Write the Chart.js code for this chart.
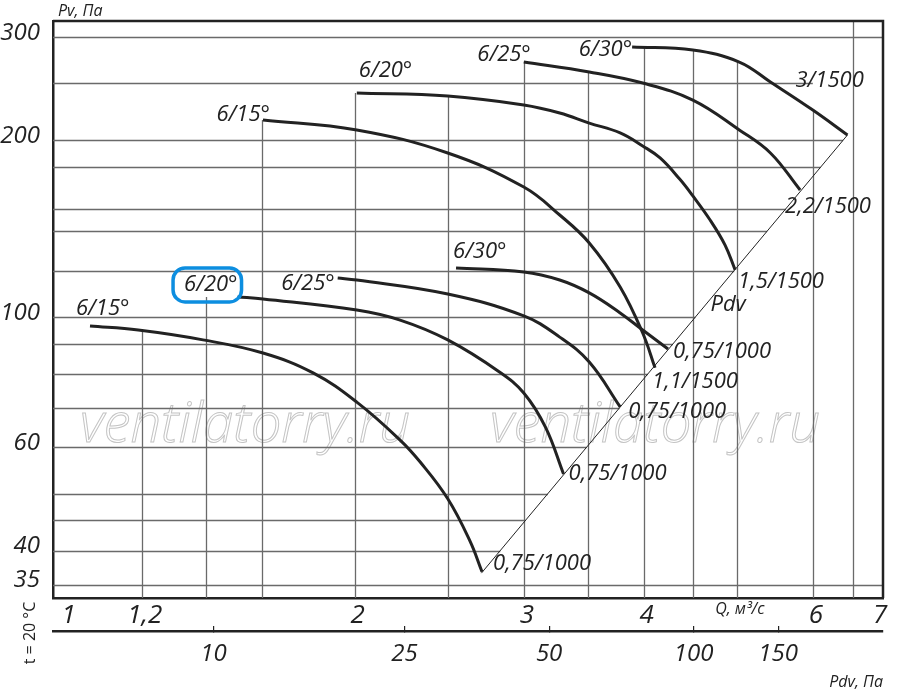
<!DOCTYPE html>
<html>
<head>
<meta charset="utf-8">
<script src="https://cdn.jsdelivr.net/npm/chart.js@4.4.1/dist/chart.umd.min.js"></script>
<style>
  html, body { margin: 0; padding: 0; background: #fff; }
</style>
</head>
<body>
<canvas id="chart" width="900" height="694"></canvas>
<script>
// Q, m3/s and Pv, Pa, one pair of arrays per curve
const lowQ15 = [1.06, 1.19, 1.39, 1.605, 1.81, 2.01, 2.23, 2.34, 2.50, 2.637, 2.714];
const lowPv15 = [96.5, 95.0, 91.4, 86.8, 80.3, 71.6, 61.7, 56.6, 49.0, 41.5, 36.8];
const lowQ20 = [1.51, 1.605, 2.01, 2.23, 2.50, 2.83, 3.00, 3.16, 3.30];
const lowPv20 = [108.2, 107.3, 102.8, 98.8, 91.4, 80.6, 74.2, 64.9, 54.0];
const lowQ25 = [1.92, 2.01, 2.50, 3.00, 3.27, 3.51, 3.78];
const lowPv25 = [116.5, 115.6, 109.4, 100.4, 92.4, 83.8, 70.3];
const lowQ30 = [2.55, 3.00, 3.27, 3.51, 3.78, 3.99, 4.24];
const lowPv30 = [121.2, 119.3, 115.6, 109.9, 101.6, 95.0, 88.2];

const highQ15 = [1.605, 2.01, 2.50, 3.00, 3.27, 3.51, 3.78, 3.99, 4.11];
const highPv15 = [216.6, 208.3, 190.3, 166.5, 149.2, 133.7, 112.5, 93.9, 81.9];
const highQ20 = [2.01, 2.50, 3.00, 3.27, 3.51, 3.78, 3.99, 4.16, 4.36, 4.50, 4.69, 4.86, 4.98];
const highPv20 = [240.8, 237.9, 229.7, 222.6, 214.0, 205.9, 195.6, 186.6, 171.8, 160.8, 146.3, 132.7, 120.3];
const highQ25 = [3.00, 3.51, 3.99, 4.50, 5.03, 5.42, 5.82];
const highPv25 = [271.9, 261.5, 250.4, 234.2, 208.3, 190.3, 164.6];
const highQ30 = [3.89, 4.50, 5.03, 5.42, 6.00, 6.52];
const highPv30 = [288.4, 285.0, 271.9, 251.4, 225.2, 204.2];

// Pdv line through the curve ends
const pdvLineQ = [2.71, 6.52];
const pdvLinePv = [36.6, 204.2];

const angleNames = ['6/15°', '6/20°', '6/25°', '6/30°', '6/15°', '6/20°', '6/25°', '6/30°'];
const motorNames = ['0,75/1000', '0,75/1000', '0,75/1000', '0,75/1000', '1,1/1500', '1,5/1500', '2,2/1500', '3/1500'];

// axes
const qTicks = [1, 1.2, 2, 3, 4, 5, 6, 7];
const qTickLabels = ['1', '1,2', '2', '3', '4', 'Q, м³/с', '6', '7'];
const qGrid = [1.2, 1.4, 1.6, 2, 2.5, 3, 3.5, 4, 4.5, 5, 6, 6.6];
const pvGrid = [35, 40, 45, 50, 60, 70, 80, 90, 100, 120, 140, 153, 180, 200, 250, 300];
const pvLabels = [35, 40, 60, 100, 200, 300];
const pdvTicks = [10, 25, 50, 100, 150];

const INK = '#222';
const GRID = '#6a6a6a';
const FONT = '"Open Sans", sans-serif';

const curves = [
  [lowQ15, lowPv15], [lowQ20, lowPv20], [lowQ25, lowPv25], [lowQ30, lowPv30],
  [highQ15, highPv15], [highQ20, highPv20], [highQ25, highPv25], [highQ30, highPv30]
].map(([q, pv], i) => ({ q, pv, name: angleNames[i], motor: motorNames[i] }));

// where the labels sit next to the curve start / end (pixels)
const startPlace = [
  { dx: -14, dy: -17, align: 'left' }, { dx: 0, dy: -12, align: 'right' },
  { dx: -3, dy: 6, align: 'right' }, { dx: -3, dy: -16, align: 'left' },
  { dx: 7, dy: -5, align: 'right' }, { dx: 2, dy: -22, align: 'left' },
  { dx: 7, dy: -7, align: 'right' }, { dx: 0, dy: 3, align: 'right' }
];
const endPlace = [
  { dx: 11, dy: -8 }, { dx: 5, dy: 0 }, { dx: 8, dy: 5 }, { dx: 5, dy: 3 },
  { dx: -3, dy: 14 }, { dx: 3, dy: 12 }, { dx: -15, dy: 17 }, { dx: -52, dy: -54 }
];

function interpLog(qs, pvs, q) {
  if (q <= qs[0]) return pvs[0];
  for (let i = 1; i < qs.length; i++) {
    if (q <= qs[i]) {
      const t = Math.log(q / qs[i - 1]) / Math.log(qs[i] / qs[i - 1]);
      return Math.exp(Math.log(pvs[i - 1]) + t * Math.log(pvs[i] / pvs[i - 1]));
    }
  }
  return null;
}

// highest curve over a given Q (curves reach a little to the left of their start)
function envelopeAt(q) {
  let top = null;
  curves.forEach(c => {
    if (q < c.q[0] / 1.09 || q > c.q[c.q.length - 1]) return;
    const v = interpLog(c.q, c.pv, q);
    if (top === null || v > top) top = v;
  });
  return top;
}

// horizontal grid lines stop at the Pdv line, or past the curves above it
function hLineEndQ(v) {
  const lo = pdvLinePv[0], hi = pdvLinePv[1];
  if (v < lo) return null;
  if (v <= hi) {
    const t = Math.log(v / lo) / Math.log(hi / lo);
    return pdvLineQ[0] * Math.pow(pdvLineQ[1] / pdvLineQ[0], t);
  }
  let exitQ = null;
  for (let q = 1; q <= 7.1; q *= 1.002) {
    const e = envelopeAt(q);
    if (e !== null && e >= v) exitQ = q;
  }
  if (exitQ === null) return null;
  const g = qGrid.find(g => g >= exitQ);
  return g === undefined ? null : g;
}

const gridPlugin = {
  id: 'clippedGrid',
  beforeDatasetsDraw(chart) {
    const { ctx, chartArea: a, scales: { x, y } } = chart;
    ctx.save();

    // watermark
    ctx.font = 'italic 300 44px ' + FONT;
    const w = ctx.measureText('ventilatorry.ru').width;
    const size = 44 * 330 / w;
    ctx.font = 'italic 300 ' + size.toFixed(1) + 'px ' + FONT;
    ctx.strokeStyle = '#c4c4c4';
    ctx.lineWidth = 1;
    ctx.textBaseline = 'alphabetic';
    ctx.strokeText('ventilatorry.ru', a.left + 27, a.top + 421);
    ctx.strokeText('ventilatorry.ru', a.left + 437, a.top + 421);

    ctx.strokeStyle = GRID;
    ctx.lineWidth = 1.3;
    qGrid.forEach(q => {
      const px = Math.round(x.getPixelForValue(q)) + 0.5;
      const top = envelopeAt(q);
      const py = top === null ? a.top : y.getPixelForValue(top);
      ctx.beginPath();
      ctx.moveTo(px, a.bottom);
      ctx.lineTo(px, py);
      ctx.stroke();
    });
    pvGrid.forEach(v => {
      const py = Math.round(y.getPixelForValue(v)) + 0.5;
      const endQ = hLineEndQ(v);
      const px = endQ === null ? a.right : x.getPixelForValue(endQ);
      ctx.beginPath();
      ctx.moveTo(a.left, py);
      ctx.lineTo(px, py);
      ctx.stroke();
    });

    // frame top and right
    ctx.strokeStyle = INK;
    ctx.lineWidth = 2.5;
    ctx.beginPath();
    ctx.moveTo(a.left, a.top);
    ctx.lineTo(a.right, a.top);
    ctx.lineTo(a.right, a.bottom);
    ctx.stroke();
    ctx.restore();
  }
};

const labelPlugin = {
  id: 'curveLabels',
  afterDatasetsDraw(chart) {
    const { ctx, chartArea: a, scales: { x, y } } = chart;
    ctx.save();
    ctx.fillStyle = INK;
    ctx.textBaseline = 'middle';
    ctx.font = 'italic 22px ' + FONT;

    curves.forEach((c, i) => {
      const sx = x.getPixelForValue(c.q[0]);
      const sy = y.getPixelForValue(c.pv[0]);
      const sp = startPlace[i];
      ctx.textAlign = sp.align;
      ctx.fillText(c.name, sx + sp.dx, sy + sp.dy);

      if (i === 1) {
        // highlighted label
        const tw = ctx.measureText(c.name).width;
        const right = sx + sp.dx;
        ctx.save();
        ctx.strokeStyle = '#0d8ee0';
        ctx.lineWidth = 3.5;
        ctx.beginPath();
        ctx.roundRect(right - tw - 11, sy + sp.dy - 17, tw + 15, 34, 12);
        ctx.stroke();
        ctx.restore();
      }

      const n = c.q.length - 1;
      const ex = x.getPixelForValue(c.q[n]);
      const ey = y.getPixelForValue(c.pv[n]);
      const ep = endPlace[i];
      ctx.textAlign = 'left';
      ctx.fillText(c.motor, ex + ep.dx, ey + ep.dy);
    });

    // Pdv line name
    const pq = hLineEndQ(100);
    ctx.textAlign = 'left';
    ctx.fillText('Pdv', x.getPixelForValue(pq) + 15, y.getPixelForValue(100) - 12);

    // axis names
    ctx.font = 'italic 16px ' + FONT;
    ctx.textAlign = 'left';
    ctx.fillText('Pv, Па', a.left + 5, a.top - 10);
    ctx.textAlign = 'right';
    ctx.fillText('Pdv, Па', a.right, a.bottom + 84);

    ctx.font = '16px ' + FONT;
    ctx.translate(30, a.bottom + 35);
    ctx.rotate(-Math.PI / 2);
    ctx.textAlign = 'center';
    ctx.fillText('t = 20 °C', 0, 0);
    ctx.restore();
  }
};

Chart.defaults.font.family = FONT;
Chart.defaults.color = INK;

const datasets = curves.map(c => ({
  data: c.q.map((q, i) => ({ x: q, y: c.pv[i] })),
  borderColor: INK,
  borderWidth: 3,
  pointRadius: 0,
  fill: false,
  tension: 0.4
}));
datasets.push({
  data: pdvLineQ.map((q, i) => ({ x: q, y: pdvLinePv[i] })),
  borderColor: INK,
  borderWidth: 1,
  pointRadius: 0,
  fill: false
});

new Chart(document.getElementById('chart'), {
  type: 'line',
  data: { datasets },
  options: {
    responsive: false,
    animation: false,
    layout: { padding: { top: 21, right: 17, left: 0, bottom: 0 } },
    plugins: { legend: { display: false }, tooltip: { enabled: false } },
    scales: {
      x: {
        type: 'logarithmic', position: 'bottom', weight: 0, min: 0.97, max: 7.1,
        grid: { display: false },
        border: { display: true, color: INK, width: 2.5 },
        afterBuildTicks: s => { s.ticks = qTicks.map(v => ({ value: v })); },
        afterFit: s => { s.height = 33; },
        ticks: {
          autoSkip: false, maxRotation: 0, minRotation: 0, padding: -6, labelOffset: 3, color: INK,
          font: c => ({ style: 'italic', size: qTickLabels[c.index] && qTickLabels[c.index].length > 3 ? 16 : 26 }),
          callback: (v, i) => qTickLabels[i]
        }
      },
      pdv: {
        type: 'logarithmic', position: 'bottom', weight: 1, min: 4.63, max: 248,
        grid: { drawOnChartArea: false, drawTicks: true, tickLength: -5, color: INK, lineWidth: 1.2 },
        border: { display: true, color: INK, width: 2.5 },
        afterBuildTicks: s => { s.ticks = pdvTicks.map(v => ({ value: v })); },
        afterFit: s => { s.height = 63; },
        ticks: {
          autoSkip: false, maxRotation: 0, minRotation: 0, padding: 14, color: INK,
          font: { style: 'italic', size: 24 },
          callback: v => String(v)
        }
      },
      y: {
        type: 'logarithmic', position: 'left', min: 33.2, max: 319.4,
        grid: { display: false },
        border: { display: true, color: INK, width: 2.5 },
        afterBuildTicks: s => { s.ticks = pvGrid.map(v => ({ value: v })); },
        afterFit: s => { s.width = 53; },
        ticks: {
          autoSkip: false, padding: 5, labelOffset: -4, color: INK,
          font: { style: 'italic', size: 24 },
          callback: v => pvLabels.includes(v) ? String(v) : ''
        }
      }
    }
  },
  plugins: [gridPlugin, labelPlugin]
});
</script>
</body>
</html>
